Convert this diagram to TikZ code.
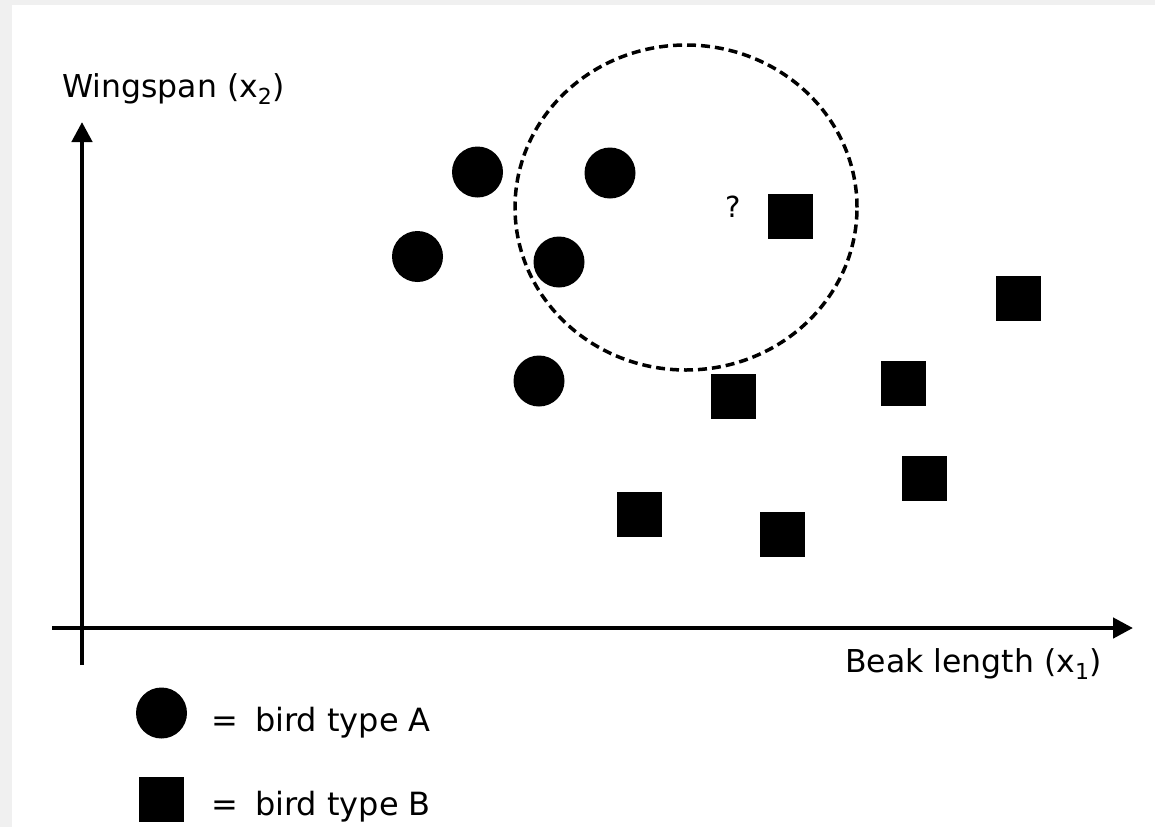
\documentclass[tikz,border=0pt]{standalone}
\usepackage{fontspec}
\setmainfont{DejaVu Sans}
\usetikzlibrary{arrows.meta,shapes.geometric}
\begin{document}
\begin{tikzpicture}[x=1pt,y=-1pt,
  dot/.style={circle,fill=black,inner sep=0pt,minimum size=51pt},
  sq/.style={rectangle,fill=black,inner sep=0pt,minimum size=45pt},
  axis/.style={line width=4.5pt,-{Triangle[length=20pt,width=20pt]}},
  lbl/.style={inner sep=0pt,font=\fontsize{#1}{#1}\selectfont}]
\fill[gray!12] (0,0) rectangle (1155,827);
\fill[white] (12,5) rectangle (1155,827);
\useasboundingbox (0,0) rectangle (1155,827);
% axes
\coordinate (yb) at (82,665);
\coordinate (yt) at (82,122);
\coordinate (xl) at (52,628);
\coordinate (xr) at (1133,628);
\draw[axis] (yb) -- (yt);
\draw[axis] (xl) -- (xr);
\node[lbl=31.5,anchor=base west] (ylab) at (62,97) {Wingspan (x\textsubscript{2})};
\node[lbl=31.5,anchor=base west] (xlab) at (845,672) {Beak length (x\textsubscript{1})};
% neighbourhood
\node[draw,ellipse,line width=3.5pt,dash pattern=on 9pt off 5pt,minimum width=342pt,minimum height=325pt,inner sep=0pt] (nb) at (686,207.5) {};
\node[lbl=29] (q) at (733,207) {?};
% type A
\node[dot] (a1) at (477.5,172) {};
\node[dot] (a2) at (610,173) {};
\node[dot] (a3) at (417.5,256.5) {};
\node[dot] (a4) at (559,262) {};
\node[dot] (a5) at (539,381) {};
% type B
\node[sq] (b1) at (790.5,216) {};
\node[sq] (b2) at (1018.5,298) {};
\node[sq] (b3) at (903.5,383.5) {};
\node[sq] (b4) at (733.5,396.5) {};
\node[sq] (b5) at (924,478.5) {};
\node[sq] (b6) at (639,514) {};
\node[sq] (b7) at (782.5,534) {};
% legend
\node[dot] (la) at (161.5,713) {};
\node[sq] (lb) at (161.5,799.5) {};
\node[lbl=32,anchor=base west] (ta) at (211,731) {=\hspace{17pt}bird type A};
\node[lbl=32,anchor=base west] (tb) at (211,815) {=\hspace{17pt}bird type B};
\end{tikzpicture}
\end{document}
